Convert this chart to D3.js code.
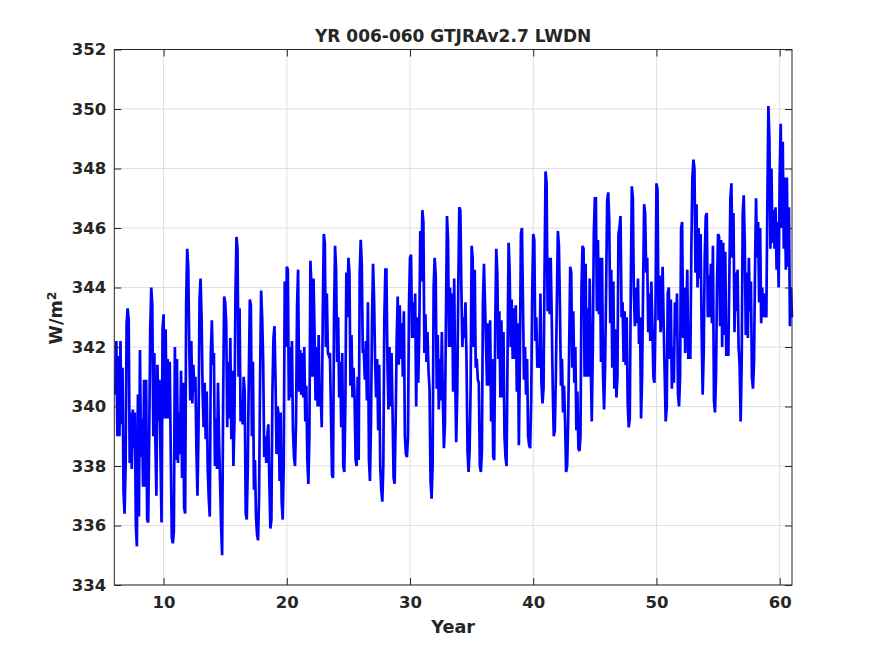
<!DOCTYPE html>
<html>
<head>
<meta charset="utf-8">
<script src="https://cdn.jsdelivr.net/npm/d3@7"></script>
<style>
    body { margin: 0; background: #fff; }
    text { font-family: "DejaVu Sans", sans-serif; font-weight: bold; fill: #262626; }
</style>
</head>
<body>
<div id="chart"></div>
<script>
// monthly global mean LWDN, one row per model year (12 months)
const firstYear = 6;

const lwdnYr06to15 = [
    340.4, 342.2, 339.0, 341.7, 339.0, 342.2, 339.4, 341.3, 337.1, 336.4, 338.0, 342.8,
    343.3, 342.9, 338.1, 339.8, 337.9, 339.9, 338.6, 339.8, 336.0, 335.3, 340.4, 336.3,
    341.9, 338.3, 339.6, 337.3, 340.9, 337.3, 340.9, 336.2, 336.1, 339.0, 342.6, 344.0,
    343.4, 339.0, 341.8, 338.8, 337.0, 341.4, 339.5, 340.9, 338.3, 336.1, 342.6, 343.1,
    339.6, 342.6, 339.6, 341.6, 339.6, 341.5, 338.4, 335.6, 335.4, 335.8, 342.0, 338.2,
    341.6, 338.1, 339.8, 338.4, 341.2, 337.6, 340.8, 336.6, 336.4, 343.5, 345.3, 344.7,
    342.0, 340.2, 342.2, 340.1, 341.4, 340.5, 341.0, 338.5, 337.0, 339.2, 343.6, 344.3,
    343.0, 340.5, 339.3, 340.8, 338.9, 340.5, 337.9, 336.9, 336.3, 341.8, 342.9, 341.4,
    341.8, 338.0, 339.6, 337.9, 340.8, 338.9, 337.5, 336.0, 335.0, 340.2, 343.7, 343.5,
    342.8, 339.3, 341.5, 339.6, 342.3, 338.9, 341.2, 338.0, 339.5, 343.8, 345.7, 345.3
];

const lwdnYr16to25 = [
    341.0, 343.3, 339.5, 340.2, 339.4, 341.0, 340.5, 336.4, 336.2, 338.0, 341.0, 343.6,
    343.4, 339.0, 341.5, 337.2, 338.2, 336.3, 335.7, 335.5, 337.0, 341.0, 343.9, 343.0,
    341.5, 338.3, 339.0, 338.1, 339.0, 339.4, 337.5, 335.9, 336.2, 340.5, 342.3, 342.7,
    340.9, 338.4, 340.0, 339.7, 337.5, 339.8, 336.8, 336.2, 338.0, 344.2, 342.0, 344.7,
    344.6, 340.2, 342.0, 340.3, 342.2, 339.2, 338.3, 338.0, 339.5, 343.4, 344.6, 340.5,
    341.9, 340.4, 341.8, 340.3, 342.0, 339.5, 340.7, 338.2, 337.4, 339.0, 344.9, 344.0,
    341.0, 344.3, 342.5, 340.2, 342.0, 340.0, 342.4, 340.0, 340.5, 339.3, 343.0, 345.8,
    345.5, 342.0, 343.8, 341.8, 341.7, 341.8, 339.8, 337.7, 337.6, 343.0, 345.4, 344.6,
    341.5, 343.0, 340.3, 341.5, 339.3, 341.8, 338.0, 337.8, 340.0, 344.5, 343.0, 345.0,
    344.5, 340.7, 342.4, 340.3, 341.3, 340.3, 338.2, 338.0, 341.0, 338.2, 344.5, 345.6
];

const lwdnYr26to35 = [
    344.8, 341.8, 341.9, 340.9, 342.2, 340.2, 343.5, 338.2, 337.5, 339.5, 343.0, 344.8,
    343.6, 341.5, 340.3, 341.6, 339.2, 341.4, 338.0, 337.2, 336.8, 338.0, 343.0, 344.6,
    344.6, 341.5, 339.9, 342.0, 340.0, 341.8, 339.8, 337.6, 337.4, 339.5, 342.2, 343.7,
    341.4, 343.4, 341.6, 342.8, 341.0, 343.2, 339.0, 338.4, 338.3, 339.0, 343.4, 345.0,
    345.1, 342.3, 343.5, 342.3, 343.8, 340.0, 343.0, 340.8, 342.5, 345.9, 344.2, 346.6,
    346.2, 341.8, 343.1, 341.5, 342.5, 341.2, 340.6, 337.5, 336.9, 338.0, 344.0, 345.0,
    344.4, 340.6, 342.4, 339.9, 341.6, 340.2, 342.5, 340.2, 338.6, 339.4, 343.0, 346.4,
    345.6, 342.0, 344.0, 342.0, 343.8, 340.5, 344.3, 340.9, 338.8, 340.5, 344.0, 346.7,
    346.6, 344.0, 342.0, 343.0, 342.3, 343.5, 341.6, 338.5, 337.8, 338.5, 340.6, 345.4,
    345.0, 342.0, 344.6, 341.3, 341.6, 340.9, 340.8, 338.0, 337.8, 338.5, 343.5, 344.8
];

const lwdnYr36to45 = [
    343.5, 342.1, 340.7, 342.8, 340.7, 342.9, 339.5, 341.6, 338.3, 338.2, 342.8, 345.3,
    344.5, 341.6, 343.2, 340.3, 342.9, 340.3, 342.5, 339.0, 338.3, 338.0, 341.8, 345.5,
    344.6, 342.0, 343.6, 341.6, 343.3, 341.6, 343.4, 340.5, 342.8, 338.7, 341.6, 345.8,
    346.0, 343.5, 340.9, 342.0, 340.4, 341.6, 339.0, 338.7, 338.6, 340.2, 343.8, 345.8,
    345.6, 342.2, 343.0, 341.3, 342.0, 341.3, 343.8, 340.8, 340.1, 340.6, 344.5, 347.9,
    347.5, 343.2, 345.0, 343.1, 345.0, 343.0, 340.6, 339.0, 339.2, 341.0, 343.5, 345.9,
    345.4, 343.3, 340.7, 341.6, 339.8, 340.7, 339.5, 337.8, 338.0, 339.5, 342.0, 344.7,
    344.5, 341.3, 343.2, 340.8, 342.0, 339.2, 340.5, 338.6, 338.5, 339.0, 344.0, 345.4,
    345.3, 341.0, 344.8, 341.0, 343.3, 341.0, 344.3, 341.5, 339.5, 341.9, 345.8, 347.0,
    347.0, 343.2, 345.6, 343.1, 345.0, 341.5, 345.0, 341.0, 339.9, 341.4, 344.0, 346.9
];

const lwdnYr46to55 = [
    347.2, 346.3, 342.8, 344.6, 341.3, 344.2, 340.6, 342.6, 340.3, 341.0, 345.8, 346.0,
    346.4, 343.0, 343.5, 341.5, 343.2, 341.4, 343.0, 340.1, 339.3, 339.6, 344.0, 347.4,
    347.0, 343.8, 342.7, 344.0, 342.8, 344.3, 342.1, 343.0, 339.6, 341.0, 344.0, 346.8,
    346.5, 344.5, 345.0, 342.5, 343.8, 342.2, 344.2, 342.8, 341.0, 340.8, 343.0, 347.5,
    347.3, 342.9, 344.4, 342.5, 343.0, 344.7, 342.8, 341.1, 339.5, 340.0, 343.8, 344.0,
    341.6, 343.6, 340.6, 342.0, 340.8, 343.5, 342.4, 343.8, 340.4, 340.0, 341.0, 346.0,
    346.2, 342.3, 344.0, 341.8, 343.0, 344.6, 341.6, 342.2, 341.6, 345.4, 347.7, 348.3,
    348.0, 344.5, 346.8, 344.0, 346.0, 344.3, 345.8, 342.6, 340.4, 341.8, 345.0, 346.4,
    346.5, 343.0, 344.4, 343.0, 344.8, 342.8, 345.4, 340.2, 339.8, 341.0, 344.2, 345.8,
    345.7, 342.7, 345.6, 342.0, 345.5, 342.4, 345.2, 341.7, 342.4, 341.7, 344.4, 347.0
];

const lwdnYr56to60 = [
    347.5, 345.0, 346.5, 342.5, 344.5, 343.2, 344.6, 342.0, 341.4, 339.5, 341.5, 346.5,
    347.1, 345.5, 342.4, 344.5, 342.3, 345.0, 343.2, 344.2, 341.0, 340.6, 341.5, 344.6,
    347.0, 345.0, 346.2, 343.5, 346.0, 342.8, 344.0, 343.0, 343.8, 343.1, 343.0, 346.8,
    350.1, 349.0, 345.3, 348.0, 345.5, 346.6, 345.3, 346.7, 344.6, 346.2, 344.0, 347.8,
    349.5, 346.0, 348.9, 345.3, 347.7, 344.6, 347.7, 344.7, 346.7, 342.7, 344.0, 343.0
];

const lwdn = [].concat(lwdnYr06to15, lwdnYr16to25, lwdnYr26to35,
    lwdnYr36to45, lwdnYr46to55, lwdnYr56to60);

const xTicks = [10, 20, 30, 40, 50, 60];
const yTicks = [334, 336, 338, 340, 342, 344, 346, 348, 350, 352];
const chartTitle = "YR 006-060 GTJRAv2.7 LWDN";
const xLabel = "Year";

const width = 875;
const height = 656;
const margin = {
    top: 49.5,
    right: 83,
    bottom: 71,
    left: 114.3
};
const axisColor = "#262626";
const gridColor = "#dfdfdf";

const svg = d3.select("#chart")
    .append("svg")
    .attr("width", width)
    .attr("height", height);

svg.append("rect")
    .attr("width", width)
    .attr("height", height)
    .attr("fill", "#fff");

const x = d3.scaleLinear()
    .domain([6, 61])
    .range([margin.left, width - margin.right]);

const y = d3.scaleLinear()
    .domain([334, 352])
    .range([height - margin.bottom, margin.top]);

// grid
svg.append("g")
    .selectAll("line")
    .data(xTicks)
    .enter().append("line")
    .attr("x1", d => x(d))
    .attr("x2", d => x(d))
    .attr("y1", margin.top)
    .attr("y2", height - margin.bottom)
    .attr("stroke", gridColor)
    .attr("stroke-width", 1);

svg.append("g")
    .selectAll("line")
    .data(yTicks)
    .enter().append("line")
    .attr("x1", margin.left)
    .attr("x2", width - margin.right)
    .attr("y1", d => y(d))
    .attr("y2", d => y(d))
    .attr("stroke", gridColor)
    .attr("stroke-width", 1);

// data line, month m of year n plotted at n + m/12
const line = d3.line()
    .x((d, i) => x(firstYear + (i + 1) / 12))
    .y(d => y(d));

svg.append("path")
    .datum(lwdn)
    .attr("fill", "none")
    .attr("stroke", "#0000ff")
    .attr("stroke-width", 2.7)
    .attr("d", line);

// axes, ticks pointing inward on all four sides
function styleAxis(g) {
    g.selectAll("line").attr("stroke", axisColor);
    g.selectAll("path").remove();
    g.selectAll("text")
        .style("font-family", "DejaVu Sans, sans-serif")
        .style("font-weight", "bold")
        .style("font-size", "16.5px")
        .attr("fill", axisColor);
}

svg.append("g")
    .attr("transform", `translate(0,${height - margin.bottom})`)
    .call(d3.axisBottom(x).tickValues(xTicks).tickSizeInner(-7).tickSizeOuter(0).tickPadding(11))
    .call(styleAxis);

svg.append("g")
    .attr("transform", `translate(0,${margin.top})`)
    .call(d3.axisTop(x).tickValues(xTicks).tickSizeInner(-7).tickSizeOuter(0).tickFormat(""))
    .call(styleAxis);

svg.append("g")
    .attr("transform", `translate(${margin.left},0)`)
    .call(d3.axisLeft(y).tickValues(yTicks).tickSizeInner(-7).tickSizeOuter(0).tickPadding(8))
    .call(styleAxis);

svg.append("g")
    .attr("transform", `translate(${width - margin.right},0)`)
    .call(d3.axisRight(y).tickValues(yTicks).tickSizeInner(-7).tickSizeOuter(0).tickFormat(""))
    .call(styleAxis);

// box
svg.append("rect")
    .attr("x", margin.left)
    .attr("y", margin.top)
    .attr("width", width - margin.right - margin.left)
    .attr("height", height - margin.bottom - margin.top)
    .attr("fill", "none")
    .attr("stroke", axisColor)
    .attr("stroke-width", 1);

// title and labels
svg.append("text")
    .attr("x", (margin.left + width - margin.right) / 2)
    .attr("y", 42)
    .attr("text-anchor", "middle")
    .style("font-size", "17px")
    .text(chartTitle);

svg.append("text")
    .attr("x", (margin.left + width - margin.right) / 2)
    .attr("y", 633)
    .attr("text-anchor", "middle")
    .style("font-size", "17.6px")
    .text(xLabel);

const yLab = svg.append("text")
    .attr("transform", "translate(62,318) rotate(-90)")
    .attr("text-anchor", "middle")
    .style("font-size", "17.6px");
yLab.append("tspan").text("W/m");
yLab.append("tspan")
    .attr("dy", "-0.45em")
    .style("font-size", "12.5px")
    .text("2");
</script>
</body>
</html>
